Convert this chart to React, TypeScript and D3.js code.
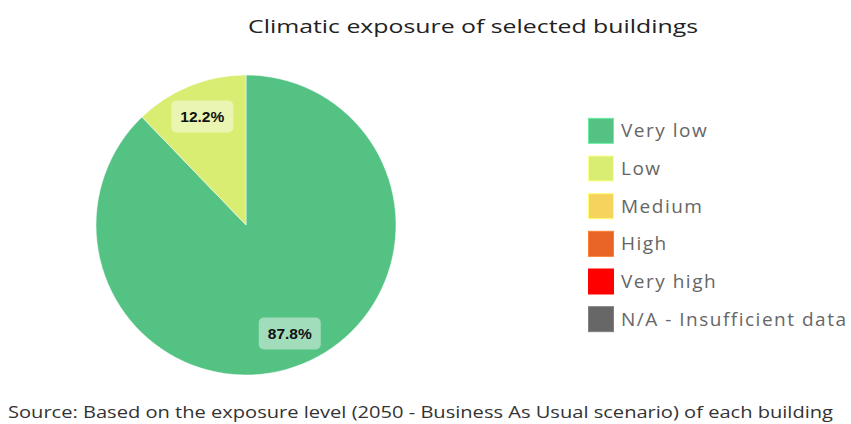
import React from "react";
import * as d3 from "d3";

const categories = ["Very low", "Low", "Medium", "High", "Very high", "N/A - Insufficient data"];
const values = [87.8, 12.2, 0, 0, 0, 0];
const colors = ["#54c283", "#d9ed73", "#f6d35c", "#e86427", "#ff0000", "#676767"];
const title = "Climatic exposure of selected buildings";
const source = "Source: Based on the exposure level (2050 - Business As Usual scenario) of each building";

const W = 851;
const H = 424;
const FONT = "'Open Sans', 'DejaVu Sans', sans-serif";

export default function App() {
  const cx = 246;
  const cy = 225;
  const r = 150;
  const data = categories.map((c, i) => ({ c, v: values[i], color: colors[i] }));
  const pie = d3.pie<any>().value((d) => d.v).sort(null);
  const arcs = pie(data).filter((a) => a.data.v > 0);
  const arc = d3.arc<any>().innerRadius(0).outerRadius(r);
  const labelArc = d3.arc<any>().innerRadius(r * 0.78).outerRadius(r * 0.78);

  const legendY = d3.scaleBand().domain(categories).range([112, 338]).paddingInner(0);

  return (
    <svg width={W} height={H} style={{ position: "absolute", left: 0, top: 0, background: "#fff" }}>
      <text x={473} y={33} textAnchor="middle" fontFamily={FONT} fontSize={19} fill="#222" textLength={450} lengthAdjust="spacingAndGlyphs">
        {title}
      </text>
      <g transform={`translate(${cx},${cy})`}>
        {arcs.map((a, i) => (
          <path key={i} d={arc(a) || ""} fill={a.data.color} stroke="#fff" strokeWidth={0.5} />
        ))}
        {arcs.map((a, i) => {
          const [lx, ly] = labelArc.centroid(a);
          const label = a.data.v.toFixed(1) + "%";
          return (
            <g key={"l" + i} transform={`translate(${lx},${ly})`}>
              <rect x={-31} y={-16} width={62} height={32} rx={5} fill="rgba(255,255,255,0.45)" />
              <text textAnchor="middle" dy="0.36em" fontFamily="'Liberation Sans', Arial, sans-serif" fontWeight="bold" fontSize={15.5} fill="#111">
                {label}
              </text>
            </g>
          );
        })}
      </g>
      {categories.map((c, i) => {
        const y = (legendY(c) as number) + legendY.bandwidth() / 2;
        return (
          <g key={c}>
            <rect x={588.5} y={y - 12.5} width={25} height={25} fill={colors[i]} stroke={d3.color(colors[i])!.brighter(0.6).toString()} strokeWidth={1} />
            <text x={621} y={y} dy="0.35em" fontFamily={FONT} fontSize={19} fill="#666" letterSpacing={1.5}>
              {c}
            </text>
          </g>
        );
      })}
      <text x={8} y={418} fontFamily={FONT} fontSize={16} fill="#333" textLength={825} lengthAdjust="spacingAndGlyphs">
        {source}
      </text>
    </svg>
  );
}
